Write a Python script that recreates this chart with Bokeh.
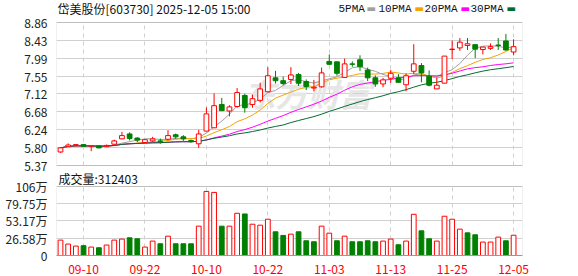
import pandas as pd
from bokeh.plotting import figure
from bokeh.models import (Range1d, FixedTicker, Label, ColumnDataSource, BoxAnnotation, Grid)
from bokeh.embed import file_html
from bokeh.resources import INLINE

# ---------------- data ----------------
dates = ["09-05", "09-08", "09-09", "09-10", "09-11", "09-12", "09-15", "09-16", "09-17", "09-18",
         "09-19", "09-22", "09-23", "09-24", "09-25", "09-26", "09-29", "09-30", "10-09", "10-10",
         "10-13", "10-14", "10-15", "10-16", "10-17", "10-20", "10-21", "10-22", "10-23", "10-24",
         "10-27", "10-28", "10-29", "10-30", "10-31", "11-03", "11-04", "11-05", "11-06", "11-07",
         "11-10", "11-11", "11-12", "11-13", "11-14", "11-17", "11-18", "11-19", "11-20", "11-21",
         "11-24", "11-25", "11-26", "11-27", "11-28", "12-01", "12-02", "12-03", "12-04", "12-05"]

opens = [5.70, 5.83, 5.86, 5.88, 5.84, 5.85, 5.83, 5.89, 6.02, 6.14,
         6.04, 5.93, 5.97, 5.97, 6.01, 6.12, 6.07, 5.98, 5.90, 6.21,
         6.29, 6.86, 6.70, 6.81, 7.08, 6.86, 6.96, 7.17, 7.51, 7.44,
         7.47, 7.59, 7.42, 7.26, 7.29, 7.91, 7.90, 7.52, 7.85, 7.95,
         7.70, 7.51, 7.36, 7.50, 7.51, 7.34, 7.67, 7.81, 7.55, 7.24,
         7.38, 8.20, 8.24, 8.30, 8.32, 8.20, 8.23, 8.31, 8.41, 8.14]
highs = [5.81, 5.91, 5.89, 5.89, 5.86, 5.86, 5.88, 6.00, 6.19, 6.18,
         6.06, 6.01, 6.07, 6.03, 6.23, 6.15, 6.11, 6.00, 6.24, 6.79,
         7.13, 7.02, 6.84, 7.26, 7.12, 7.10, 7.39, 7.77, 7.68, 7.54,
         7.77, 7.63, 7.47, 7.46, 7.76, 8.08, 7.90, 7.98, 7.91, 8.06,
         7.76, 7.57, 7.51, 7.70, 7.60, 7.62, 8.33, 7.87, 7.69, 7.52,
         8.04, 8.42, 8.48, 8.48, 8.32, 8.26, 8.35, 8.48, 8.58, 8.45]
lows = [5.68, 5.82, 5.84, 5.83, 5.72, 5.79, 5.82, 5.87, 6.01, 5.98,
        5.94, 5.92, 5.94, 5.90, 5.98, 6.02, 5.97, 5.93, 5.80, 6.21,
        6.29, 6.70, 6.57, 6.78, 6.66, 6.78, 6.91, 7.17, 7.37, 7.33,
        7.36, 7.31, 7.21, 7.18, 7.27, 7.82, 7.56, 7.52, 7.78, 7.68,
        7.43, 7.29, 7.28, 7.39, 7.40, 7.18, 7.60, 7.40, 7.30, 7.24,
        7.38, 7.97, 8.17, 8.19, 7.99, 8.08, 8.19, 8.19, 8.17, 8.06]
closes = [5.80, 5.87, 5.88, 5.84, 5.85, 5.80, 5.86, 5.97, 6.10, 6.03,
          5.99, 6.00, 6.02, 5.96, 6.10, 6.07, 6.02, 5.95, 6.14, 6.63,
          6.83, 6.71, 6.80, 7.15, 6.78, 7.00, 7.24, 7.56, 7.44, 7.37,
          7.58, 7.38, 7.30, 7.28, 7.63, 7.84, 7.62, 7.85, 7.84, 7.78,
          7.51, 7.36, 7.46, 7.62, 7.40, 7.56, 7.85, 7.63, 7.33, 7.33,
          8.04, 8.21, 8.38, 8.34, 8.21, 8.26, 8.27, 8.30, 8.19, 8.27]
volumes_wan = [23.7, 17.6, 14.5, 15.1, 13.0, 12.0, 16.1, 23.7, 25.3, 27.3,
               25.8, 13.0, 22.2, 18.1, 29.8, 18.1, 18.1, 18.1, 45.2, 98.7,
               97.2, 45.2, 45.2, 65.1, 64.0, 48.2, 46.7, 55.9, 36.5, 30.9,
               32.9, 36.5, 22.7, 21.2, 45.2, 34.4, 22.7, 29.8, 21.2, 21.2,
               22.7, 21.2, 22.2, 25.3, 16.6, 22.2, 63.5, 38.0, 25.8, 22.2,
               60.5, 55.9, 40.6, 34.9, 31.9, 20.7, 20.7, 28.3, 22.7, 31.2403]

xtick_labels = ["09-10", "09-22", "10-10", "10-22", "11-03", "11-13", "11-25", "12-05"]
price_ticks = [5.37, 5.80, 6.24, 6.68, 7.12, 7.55, 7.99, 8.43, 8.86]
vol_ticks = [0, 26.58, 53.17, 79.75, 106.32]
vol_tick_labels = ["0", "26.58万", "53.17万", "79.75万", "106万"]
ma_periods = [5, 10, 20, 30]
ma_names = ["5PMA", "10PMA", "20PMA", "30PMA"]
title_text = "岱美股份[603730] 2025-12-05 15:00"
vol_title = "成交量:312403"

# ---------------- styles / layout (pixels) ----------------
RED = "#ff0000"
GREEN = "#008000"
MA_COLORS = ["#a0a0a0", "#f5a300", "#ff00ff", "#006b30"]
FONT = "Noto Sans CJK SC"
LEG_FONT = "Liberation Mono"
BORDER = "#999999"
GRID = "#d0d0d0"
TXT = "#111111"
W, H = 578, 276
BORDER_L, BORDER_R, BORDER_B = 56, 56, 21
FRAME_H = H - BORDER_B            # frame spans canvas y 0..255
PRICE_TOP_PX, PRICE_BOT_PX = 22, 165
VOL_TOP_PX, VOL_BOT_PX = 186, 255

n = len(dates)
idx = list(range(n))
cser = pd.Series(closes)
ma_values = [cser.rolling(k, min_periods=1).mean().tolist() for k in ma_periods]

candle_up = [c >= o for o, c in zip(opens, closes)]
vol_up = [True] + [closes[i] >= closes[i - 1] for i in range(1, n)]

src = ColumnDataSource(dict(
    x=idx, high=highs, low=lows,
    top=[max(o, c) for o, c in zip(opens, closes)],
    bottom=[min(o, c) for o, c in zip(opens, closes)],
    color=[RED if u else GREEN for u in candle_up],
    fill=["#ffffff" if u else GREEN for u in candle_up],
))
vsrc = ColumnDataSource(dict(
    x=idx, vol=volumes_wan,
    color=[RED if u else GREEN for u in vol_up],
    fill=["#ffffff" if u else GREEN for u in vol_up],
))

# main (price) range covers the whole frame; price band sits at PRICE_TOP_PX..PRICE_BOT_PX
p_lo, p_hi = price_ticks[0], price_ticks[-1]
ppu = (PRICE_BOT_PX - PRICE_TOP_PX) / (p_hi - p_lo)
main_lo = p_lo - (FRAME_H - PRICE_BOT_PX) / ppu
main_hi = p_hi + PRICE_TOP_PX / ppu
# volume range: 0 at frame bottom, top tick at VOL_TOP_PX
v_lo, v_hi = vol_ticks[0], vol_ticks[-1]
vpu = (VOL_BOT_PX - VOL_TOP_PX) / (v_hi - v_lo)
vol_range = Range1d(v_lo, v_lo + FRAME_H / vpu)


def vol_to_main(val):
    return main_lo + (FRAME_H - VOL_BOT_PX + (val - v_lo) * vpu) / ppu


xr = Range1d(-0.52, 60.16)
tick_pos = [dates.index(d) for d in xtick_labels]

p = figure(width=W, height=H, x_range=xr, y_range=Range1d(main_lo, main_hi),
           output_backend="svg", toolbar_location=None,
           min_border_left=BORDER_L, min_border_right=BORDER_R, min_border_top=0,
           min_border_bottom=BORDER_B, outline_line_color=None,
           background_fill_color="white", border_fill_color="white")
p.extra_y_ranges = {"vol": vol_range}

# y axis: price ticks + volume ticks (mapped into the main range)
vol_tick_main = [vol_to_main(t) for t in vol_ticks]
all_ticks = price_ticks + vol_tick_main
overrides = {t: f"{t:.2f}" for t in price_ticks}
overrides.update({t: s for t, s in zip(vol_tick_main, vol_tick_labels)})
p.yaxis.ticker = FixedTicker(ticks=all_ticks)
p.yaxis.major_label_overrides = overrides
p.yaxis.axis_line_color = None
p.yaxis.major_tick_line_color = None
p.yaxis.minor_tick_line_color = None
p.yaxis.major_label_standoff = 3
p.yaxis.major_label_text_font = FONT
p.yaxis.major_label_text_font_size = "12px"
p.yaxis.major_label_text_color = "#222222"
p.ygrid.ticker = FixedTicker(ticks=all_ticks)
p.ygrid.grid_line_color = GRID

# x axis with date labels at the very bottom
p.xaxis.ticker = FixedTicker(ticks=tick_pos)
p.xaxis.major_label_overrides = {i: d for i, d in zip(tick_pos, xtick_labels)}
p.xaxis.major_label_text_color = RED
p.xaxis.major_label_text_font = FONT
p.xaxis.major_label_text_font_size = "12px"
p.xaxis.major_tick_line_color = None
p.xaxis.minor_tick_line_color = None
p.xaxis.axis_line_color = BORDER
p.xaxis.major_label_standoff = 3

# dashed vertical grid lines, one set per panel
p.xgrid.visible = False
for lo, hi in [(p_lo, p_hi), (main_lo, vol_to_main(v_hi))]:
    g = Grid(dimension=0, ticker=FixedTicker(ticks=tick_pos), grid_line_color=GRID,
             grid_line_dash="4 4", cross_bounds=(lo, hi))
    p.add_layout(g, "center")

# panel frames
p.add_layout(BoxAnnotation(left=xr.start, right=xr.end, bottom=p_lo, top=p_hi, fill_alpha=0,
                           line_color=BORDER, line_width=1, level="underlay"))
p.add_layout(BoxAnnotation(left=xr.start, right=xr.end, bottom=v_lo, top=v_hi, fill_alpha=0,
                           line_color=BORDER, line_width=1, level="underlay",
                           y_range_name="vol"))

# watermark
p.add_layout(Label(x=187, y=FRAME_H - 92, x_units="screen", y_units="screen", text="东方财富",
                   text_font=FONT, text_font_size="32px", text_font_style="bold italic",
                   text_color="#e6e6e6", text_baseline="middle", level="underlay"))

# moving averages + candles
for k in range(len(ma_names)):
    p.line(idx, ma_values[k], line_color=MA_COLORS[k], line_width=1)
p.segment(x0="x", y0="high", x1="x", y1="low", line_color="color", line_width=1, source=src)
p.vbar(x="x", width=0.62, top="top", bottom="bottom", fill_color="fill",
       line_color="color", line_width=1, source=src)

# volume bars
p.vbar(x="x", width=0.62, top="vol", bottom=0, fill_color="fill", line_color="color",
       line_width=1, source=vsrc, y_range_name="vol")

# header texts (screen units, relative to frame bottom-left)
p.add_layout(Label(x=1, y=FRAME_H - 8, x_units="screen", y_units="screen", text=title_text,
                   text_font=FONT, text_font_size="12px", text_color=TXT,
                   text_baseline="middle"))
leg_x = [282, 322, 368, 414]
sw_x = [310, 358, 404, 450]
for k, name in enumerate(ma_names):
    p.add_layout(Label(x=leg_x[k], y=FRAME_H - 8, x_units="screen", y_units="screen",
                       text=name, text_font=LEG_FONT, text_font_size="11px", text_color=TXT,
                       text_baseline="middle"))
    p.add_layout(Label(x=sw_x[k], y=FRAME_H - 8, x_units="screen", y_units="screen", text="▬",
                       text_font="DejaVu Sans", text_font_size="10px", text_color=MA_COLORS[k],
                       text_baseline="middle"))
p.add_layout(Label(x=2, y=FRAME_H - 178, x_units="screen", y_units="screen", text=vol_title,
                   text_font=FONT, text_font_size="12px", text_color=TXT,
                   text_baseline="middle"))

open("out.html", "w").write(file_html(p, INLINE))
